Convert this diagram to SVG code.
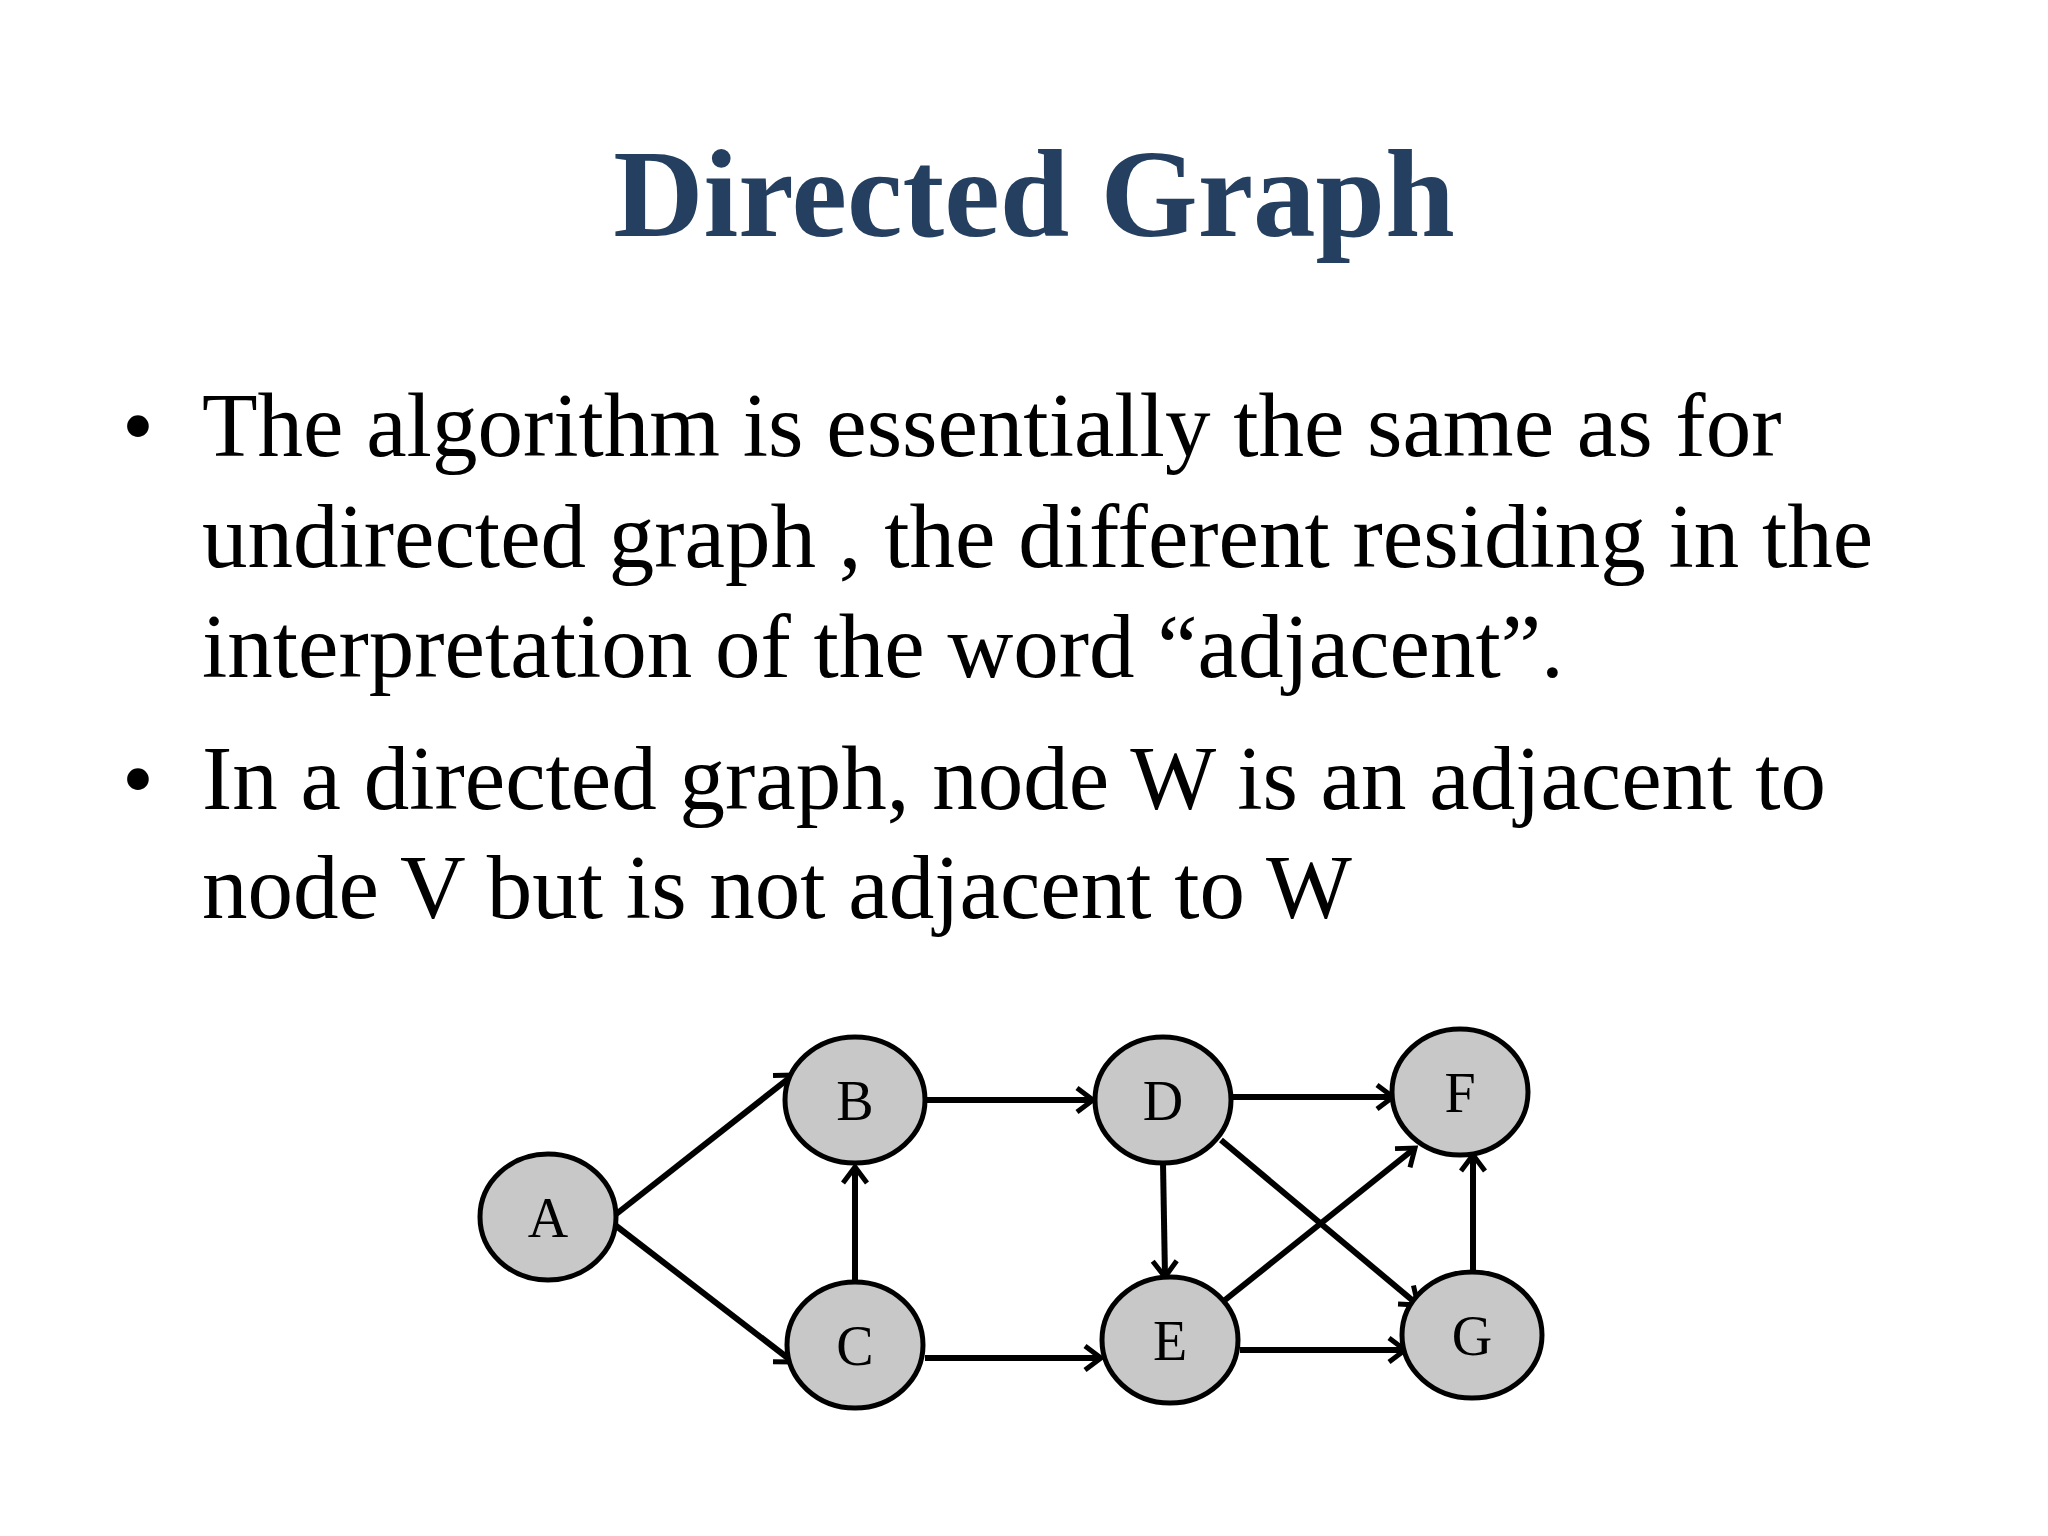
<svg xmlns="http://www.w3.org/2000/svg" width="2048" height="1536" viewBox="0 0 2048 1536">
<style>
.t{font-family:"Liberation Serif","Times New Roman",serif;fill:#000;font-size:91px}
.n ellipse{fill:#c8c8c8;stroke:#000;stroke-width:5}
.n text{font-family:"Liberation Serif",serif;font-size:56px;text-anchor:middle;fill:#000}
.e line{stroke:#000;stroke-width:6;marker-end:url(#ah)}
</style>
<defs><marker id="ah" markerUnits="userSpaceOnUse" markerWidth="40" markerHeight="40" refX="0" refY="0" viewBox="-20 -20 40 40" orient="auto"><path d="M-16,-12 L0,0 L-16,12" fill="none" stroke="#000" stroke-width="5"/></marker></defs>
<rect width="2048" height="1536" fill="#fff"/>
<text x="1034" y="236" text-anchor="middle" font-family="Liberation Serif,serif" font-weight="bold" font-size="125" fill="#243F60">Directed Graph</text>
<text class="t" x="122" y="456">•</text>
<text class="t" x="202" y="456">The algorithm is essentially the same as for</text>
<text class="t" x="202" y="567">undirected graph , the different residing in the</text>
<text class="t" x="202" y="677">interpretation of the word “adjacent”.</text>
<text class="t" x="122" y="809">•</text>
<text class="t" x="202" y="809">In a directed graph, node W is an adjacent to</text>
<text class="t" x="202" y="918">node V but is not adjacent to W</text>
<g transform="translate(-7,0)">
<g class="e" id="edges">
<line x1="622" y1="1215" x2="800" y2="1075"/>
<line x1="622" y1="1225" x2="800" y2="1362"/>
<line x1="862" y1="1282" x2="862" y2="1167"/>
<line x1="932" y1="1100" x2="1100" y2="1100"/>
<line x1="932" y1="1358" x2="1108" y2="1358"/>
<line x1="1240" y1="1097" x2="1400" y2="1097"/>
<line x1="1170" y1="1163" x2="1172" y2="1277"/>
<line x1="1228" y1="1140" x2="1425" y2="1305"/>
<line x1="1232" y1="1300" x2="1422" y2="1148"/>
<line x1="1247" y1="1350" x2="1412" y2="1350"/>
<line x1="1480" y1="1272" x2="1480" y2="1155"/>
</g>
<g class="n" id="A"><ellipse cx="555" cy="1217" rx="68" ry="63"/><text x="555" y="1237">A</text></g>
<g class="n" id="B"><ellipse cx="862" cy="1100" rx="70" ry="63"/><text x="862" y="1120">B</text></g>
<g class="n" id="C"><ellipse cx="862" cy="1345" rx="68" ry="63"/><text x="862" y="1365">C</text></g>
<g class="n" id="D"><ellipse cx="1170" cy="1100" rx="68" ry="63"/><text x="1170" y="1120">D</text></g>
<g class="n" id="E"><ellipse cx="1177" cy="1340" rx="68" ry="63"/><text x="1177" y="1360">E</text></g>
<g class="n" id="F"><ellipse cx="1467" cy="1092" rx="68" ry="63"/><text x="1467" y="1112">F</text></g>
<g class="n" id="G"><ellipse cx="1479" cy="1335" rx="70" ry="63"/><text x="1479" y="1355">G</text></g>
</g>
</svg>
